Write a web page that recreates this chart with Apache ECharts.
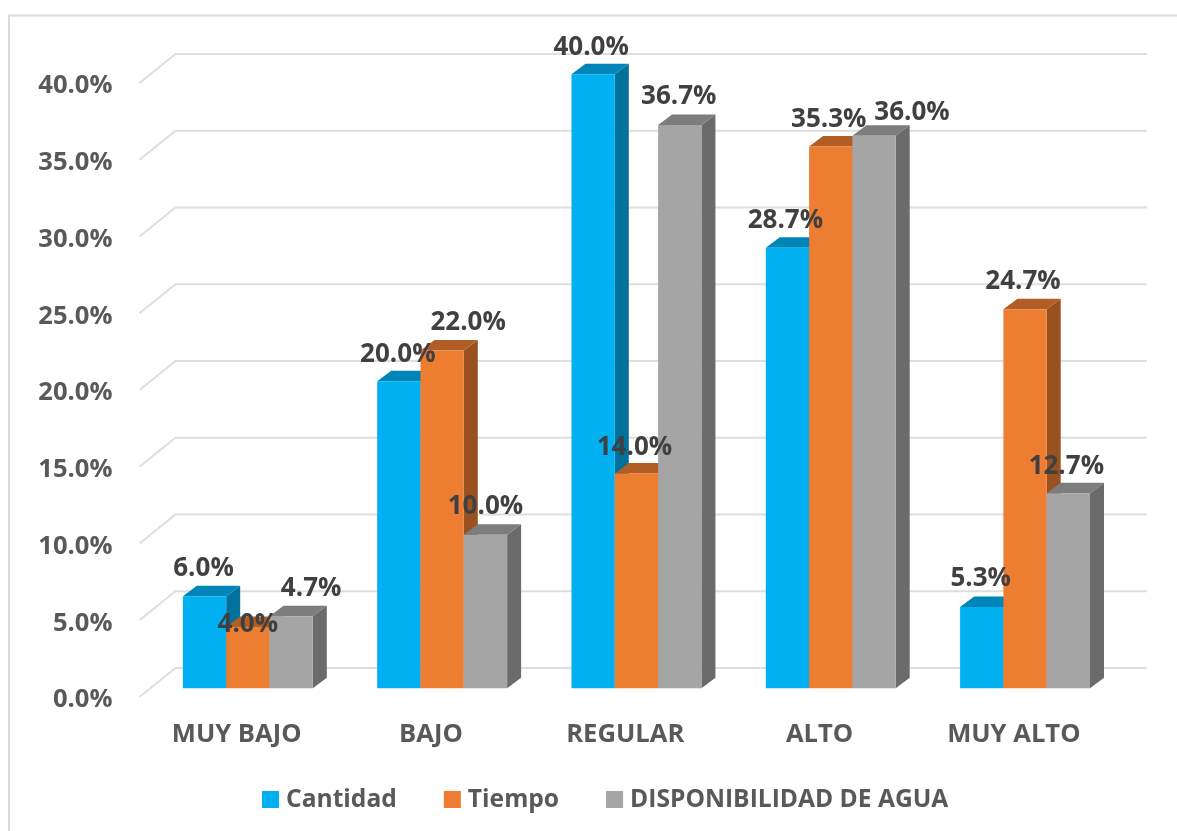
<!DOCTYPE html>
<html><head><meta charset="utf-8">
<style>html,body{margin:0;padding:0;background:#fff}#c{width:1177px;height:831px}</style>
<script src="https://cdn.jsdelivr.net/npm/echarts@6/dist/echarts.min.js"></script>
</head><body><div id="c"></div>
<script>
var categories = ['MUY BAJO','BAJO','REGULAR','ALTO','MUY ALTO'];
var yTicks = [0,5,10,15,20,25,30,35,40];
var cantidad = [6.0,20.0,40.0,28.7,5.3];
var tiempo = [4.0,22.0,14.0,35.3,24.7];
var disponibilidad = [4.7,10.0,36.7,36.0,12.7];
var seriesNames = ['Cantidad','Tiempo','DISPONIBILIDAD DE AGUA'];

// layout / style only
var palettes = [
  {front:'#00B0F0', top:'#0085B8', side:'#00709C'},
  {front:'#ED7D31', top:'#B25D25', side:'#9A5120'},
  {front:'#A5A5A5', top:'#7D7D7D', side:'#6B6B6B'}
];
var labelNudges = [
  [[-1,-28],[-1,-27],[-2,-27],[-2,-27],[-1,-28]],
  [[0,-2],[26,-28],[-2,-26],[-2,-27],[-2,-28]],
  [[20,-28],[0,-28],[-1,-28],[38,-23],[-2,-27]]
];
var DEPTH_X = 14, DEPTH_Y = 10.5, FLOOR_X = 11.2, FLOOR_Y = 8.7, WALL_X = 36, WALL_Y = 29;
var FONT = '"Open Sans", Lato, sans-serif';

function barSeries(idx, values){
  return {
    type:'custom', name:seriesNames[idx], coordinateSystem:'cartesian2d',
    itemStyle:{color:palettes[idx].front},
    encode:{x:0,y:1}, z:5,
    data:values.map(function(v,i){return [categories[i],v];}),
    renderItem:function(params,api){
      var c = palettes[idx];
      var base = api.coord([api.value(0),0]);
      var top = api.coord([api.value(0),api.value(1)]);
      var w = api.size([1,0])[0]*0.2229;
      var x = base[0]+FLOOR_X+(idx-1.5)*w;
      var y0 = base[1]-FLOOR_Y, y = top[1]-FLOOR_Y;
      var n = labelNudges[idx][params.dataIndex];
      return {type:'group',children:[
        {type:'polygon',shape:{points:[[x+w,y],[x+w+DEPTH_X,y-DEPTH_Y],[x+w+DEPTH_X,y0-DEPTH_Y],[x+w,y0]]},style:{fill:c.side}},
        {type:'polygon',shape:{points:[[x,y],[x+w,y],[x+w+DEPTH_X,y-DEPTH_Y],[x+DEPTH_X,y-DEPTH_Y]]},style:{fill:c.top}},
        {type:'rect',shape:{x:x,y:y,width:w,height:y0-y},style:{fill:c.front}},
        {type:'text',z2:100,style:{x:x+w/2+n[0],y:y+n[1],text:api.value(1).toFixed(1)+'%',
          fill:'#404040',font:'bold 26px '+FONT,textAlign:'center',textVerticalAlign:'middle'}}
      ]};
    }
  };
}

var chart = echarts.init(document.getElementById('c'),null,{renderer:'canvas'});
chart.setOption({
  animation:false,
  backgroundColor:'#fff',
  textStyle:{fontFamily:FONT},
  graphic:[{type:'polyline',silent:true,shape:{points:[[9,831],[9,15.5],[1177,15.5]]},style:{stroke:'#d9d9d9',lineWidth:2,fill:null}}],
  grid:{left:139.5,width:971.5,top:83,height:614,containLabel:false},
  xAxis:{type:'category',data:categories,axisLine:{show:false},axisTick:{show:false},
    axisLabel:{color:'#595959',fontWeight:'bold',fontSize:25.6,margin:25,fontFamily:FONT}},
  yAxis:{type:'value',min:0,max:40,interval:5,axisLine:{show:false},axisTick:{show:false},splitLine:{show:false},
    axisLabel:{color:'#595959',fontWeight:'bold',fontSize:25.6,margin:27,fontFamily:FONT,verticalAlign:'top',lineHeight:6,
      formatter:function(v){return v.toFixed(1)+'%';}}},
  legend:{data:seriesNames,left:262,top:787,padding:0,icon:'rect',itemWidth:17,itemHeight:17,itemGap:47,
    textStyle:{color:'#595959',fontWeight:'bold',fontSize:24.6,fontFamily:FONT,padding:[0,0,0,2]}},
  series:[
    {type:'custom',name:'grid',coordinateSystem:'cartesian2d',silent:true,z:1,encode:{y:0},
     data:yTicks.map(function(v){return [v];}),
     renderItem:function(params,api){
       var g = params.coordSys;
       var y = api.coord([categories[0],api.value(0)])[1];
       return {type:'polyline',shape:{points:[[g.x,y],[g.x+WALL_X,y-WALL_Y],[g.x+g.width+WALL_X,y-WALL_Y]]},
         style:{stroke:'#dedede',lineWidth:2,fill:null}};
     }},
    barSeries(0,cantidad),
    barSeries(1,tiempo),
    barSeries(2,disponibilidad)
  ]
});
</script></body></html>
